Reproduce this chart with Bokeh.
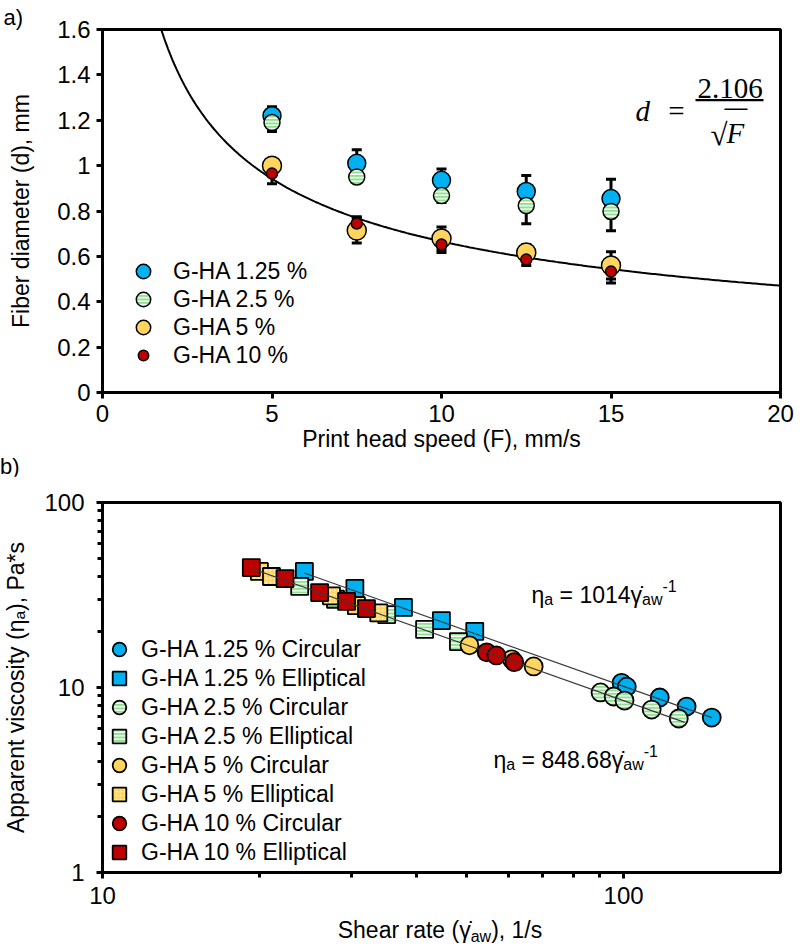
import numpy as np
from bokeh.plotting import figure
from bokeh.models import (ColumnDataSource, Range1d, FixedTicker, Whisker, TeeHead,
                          Legend, LegendItem, Label, BoxAnnotation, Title, Div)
from bokeh.layouts import column
from bokeh.embed import file_html
from bokeh.resources import INLINE

FONT = "Liberation Sans"
SERIF = "Liberation Serif"
BLUE, GREEN, YELLOW, RED = "#00B0F0", "#8FE08F", "#FFD560", "#C00000"
NB = "\u00a0"

# ---------------- panel a) data ----------------
speed = [5, 7.5, 10, 12.5, 15]
d_125 = [1.22, 1.01, 0.935, 0.886, 0.855]
d_125_err = [0.04, 0.06, 0.05, 0.07, 0.085]
d_25 = [1.19, 0.95, 0.868, 0.824, 0.798]
d_25_err = [0.04, 0.02, 0.03, 0.08, 0.085]
d_5 = [1.0, 0.714, 0.679, 0.617, 0.56]
d_5_err = [0.03, 0.055, 0.05, 0.035, 0.06]
d_10 = [0.965, 0.745, 0.652, 0.586, 0.533]
d_10_err = [0.045, 0.03, 0.035, 0.026, 0.05]
fit_coef_a = 2.106
fit_speed_range = [1.5, 20]
x_ticks_a = [0, 5, 10, 15, 20]
x_tick_labels_a = ["0", "5", "10", "15", "20"]
y_ticks_a = [0, 0.2, 0.4, 0.6, 0.8, 1, 1.2, 1.4, 1.6]
y_tick_labels_a = ["0", "0.2", "0.4", "0.6", "0.8", "1", "1.2", "1.4", "1.6"]
labels_a = ["G-HA 1.25 %", "G-HA 2.5 %", "G-HA 5 %", "G-HA 10 %"]

# ---------------- panel b) data ----------------
g_125_c = [99.1, 101.4, 117.3, 132.1, 147.6]
v_125_c = [10.6, 10.1, 8.83, 7.89, 6.88]
g_125_e = [24.4, 30.5, 37.8, 44.7, 51.8]
v_125_e = [42.4, 34.3, 27.1, 23.0, 20.1]
g_25_c = [90.3, 95.7, 100.4, 113.2, 127.6]
v_25_c = [9.4, 8.94, 8.5, 7.6, 6.8]
g_25_e = [23.9, 28.0, 35.1, 41.5, 48.2]
v_25_e = [35.2, 30.0, 24.8, 20.6, 17.7]
g_5_c = [50.6, 61.0, 67.2]
v_5_c = [16.9, 14.2, 13.0]
g_5_e = [20.0, 21.1, 27.5, 30.7, 33.9]
v_5_e = [42.4, 39.8, 31.3, 27.7, 25.3]
g_10_c = [54.6, 57.0, 61.7]
v_10_c = [15.5, 14.9, 13.7]
g_10_e = [19.3, 22.4, 26.1, 29.4, 32.1]
v_10_e = [44.5, 38.8, 32.6, 29.2, 26.7]
fit_coef_upper = 1014
fit_coef_lower = 848.68
fit_range_upper = [24.4, 147.6]
fit_range_lower = [19.3, 131.0]
x_ticks_b = [10, 100]
x_tick_labels_b = ["10", "100"]
x_minor_b = [20, 30, 40, 50, 60, 70, 80, 90]
y_ticks_b = [1, 10, 100]
y_tick_labels_b = ["1", "10", "100"]
y_minor_b = [2, 3, 4, 5, 6, 7, 8, 9, 20, 30, 40, 50, 60, 70, 80, 90]
labels_b = ["G-HA 1.25 % Circular", "G-HA 1.25 % Elliptical",
            "G-HA 2.5 % Circular", "G-HA 2.5 % Elliptical",
            "G-HA 5 % Circular", "G-HA 5 % Elliptical",
            "G-HA 10 % Circular", "G-HA 10 % Elliptical"]

# Arial-like advance widths (per 1000 em) for placing composed texts
AW = {' ': 278, NB: 278, '(': 333, ')': 333, ',': 278, '.': 278, '/': 278, '*': 389,
      '-': 333, '=': 584, 'a': 556, 'w': 722, 'η': 556, 'γ': 500}


def tw(s, size):
    return sum(AW.get(ch, 556) for ch in s if ch != '\u0307') * size / 1000.0


def add_pieces(p, pieces, x0, y0, fl, fb):
    pos = 0.0
    for text, size, shift in pieces:
        p.add_layout(Label(x=x0 + pos - fl, y=fb - (y0 + shift), x_units="screen",
                           y_units="screen", text=text, text_font=FONT,
                           text_font_size=f"{size}px", text_align="left",
                           text_baseline="alphabetic", text_color="black"))
        pos += tw(text, size)


def style_axis(ax, tick_size="24px", standoff=6):
    ax.axis_line_width = 3
    ax.axis_line_color = "black"
    ax.major_tick_line_width = 3
    ax.major_tick_line_color = "black"
    ax.major_tick_out = 6
    ax.major_tick_in = 0
    ax.minor_tick_line_color = None
    ax.major_label_text_font = FONT
    ax.major_label_text_font_size = tick_size
    ax.major_label_text_color = "black"
    ax.major_label_standoff = standoff
    ax.axis_label_text_font = FONT
    ax.axis_label_text_font_size = "23px"
    ax.axis_label_text_font_style = "normal"
    ax.axis_label_text_color = "black"


def one_item_legend(item, left, center_y, fl, fb, glyph_w, glyph_h, standoff):
    # a single-row legend placed so that its row is centred on page y = center_y
    h = max(glyph_h, 27)
    return Legend(items=[item], location=(left - fl, fb - (center_y + h / 2)),
                  padding=0, margin=0, spacing=0, glyph_width=glyph_w,
                  glyph_height=glyph_h, label_standoff=standoff,
                  label_text_font=FONT, label_text_font_size="23px",
                  label_text_color="black", label_height=20,
                  border_line_color=None, background_fill_alpha=0)


# ====================== panel a ======================
FL1, FB1 = 99, 392  # frame left / bottom in page px
p1 = figure(width=800, height=456, x_range=Range1d(0, 20), y_range=Range1d(0, 1.6),
            output_backend="svg", toolbar_location=None,
            min_border_left=99, min_border_right=12, min_border_top=29, min_border_bottom=64)
p1.grid.visible = False
p1.outline_line_color = "black"
p1.outline_line_width = 3
p1.background_fill_color = "white"
p1.border_fill_color = "white"
p1.title = Title(text="a)", align="left", offset=-99, standoff=0, text_font=FONT,
                 text_font_size="22px", text_font_style="normal", text_color="black")
style_axis(p1.xaxis[0])
style_axis(p1.yaxis[0])
p1.xaxis.ticker = FixedTicker(ticks=x_ticks_a)
p1.xaxis.major_label_overrides = dict(zip(x_ticks_a, x_tick_labels_a))
p1.yaxis.ticker = FixedTicker(ticks=y_ticks_a)
p1.yaxis.major_label_overrides = dict(zip(y_ticks_a, y_tick_labels_a))
p1.xaxis.axis_label = "Print head speed (F), mm/s"
p1.yaxis.axis_label = "Fiber diameter (d), mm"
p1.xaxis.axis_label_standoff = 1
p1.yaxis.axis_label_standoff = 20

# fitted curve d = 2.106 / sqrt(F)
F_fit = np.linspace(fit_speed_range[0], fit_speed_range[1], 300)
p1.line(F_fit, fit_coef_a / np.sqrt(F_fit), line_color="black", line_width=2)

series_a = [
    (d_125, d_125_err, dict(fill_color=BLUE), 18),
    (d_25, d_25_err, dict(fill_color=GREEN, hatch_pattern="horizontal_line",
                          hatch_color="white", hatch_scale=3.5, hatch_weight=1.5), 16),
    (d_5, d_5_err, dict(fill_color=YELLOW), 19),
    (d_10, d_10_err, dict(fill_color=RED), 11),
]
for vals, errs, fill, sz in series_a:
    v = np.array(vals)
    e = np.array(errs)
    src = ColumnDataSource(dict(x=speed, y=vals, upper=v + e, lower=v - e))
    p1.add_layout(Whisker(source=src, base="x", upper="upper", lower="lower",
                          line_color="black", line_width=3,
                          upper_head=TeeHead(size=10, line_width=3, line_color="black"),
                          lower_head=TeeHead(size=10, line_width=3, line_color="black")))
for k, ((vals, errs, fill, sz), lab) in enumerate(zip(series_a, labels_a)):
    r = p1.scatter(speed, vals, marker="circle", size=sz, line_color="black",
                   line_width=1.5, **fill)
    gh = 26 if k == 3 else 36
    p1.add_layout(one_item_legend(LegendItem(label=lab, renderers=[r]), 122,
                                  271 + 28 * k, FL1, FB1, 36, gh, 12))

# equation d = 2.106 / sqrt(F)
eq_style = dict(x_units="screen", y_units="screen", text_font=SERIF,
                text_font_size="29px", text_baseline="alphabetic", text_color="black")
p1.add_layout(Label(x=533, y=282, text="d", text_font_style="italic", **eq_style))
p1.add_layout(Label(x=574, y=282, text="=", text_align="center", **eq_style))
p1.add_layout(Label(x=627.5, y=304, text=str(fit_coef_a), text_align="center", **eq_style))
box_units = dict(left_units="screen", right_units="screen", top_units="screen",
                 bottom_units="screen", fill_color="black", fill_alpha=1, line_color=None)
p1.add_layout(BoxAnnotation(left=593, right=661, bottom=291.3, top=293.5, **box_units))
p1.add_layout(Label(x=625, y=258, text="√", text_align="right",
                    **{**eq_style, "text_font_size": "31px"}))
p1.add_layout(Label(x=624, y=260, text="F", text_font_style="italic", text_align="left",
                    **eq_style))
p1.add_layout(BoxAnnotation(left=622, right=645, bottom=282.5, top=284, **box_units))

# panel label b) between the two plots
b_label = Div(text=("<div style=\"font-family:'Liberation Sans';font-size:22px;"
                    "line-height:22px;margin:0;padding:0;color:#000;white-space:nowrap\">"
                    "b)</div>"), width=800, height=20, margin=0)

# ====================== panel b ======================
FL2, FB2 = 101, 872
p2 = figure(width=800, height=439, x_axis_type="log", y_axis_type="log",
            x_range=Range1d(10, 200), y_range=Range1d(1, 100),
            output_backend="svg", toolbar_location=None,
            min_border_left=101, min_border_right=20, min_border_top=26, min_border_bottom=43)
p2.grid.visible = False
p2.outline_line_color = "black"
p2.outline_line_width = 3
style_axis(p2.xaxis[0], standoff=8)
style_axis(p2.yaxis[0], standoff=12)
for ax, t, lab, mn in ((p2.xaxis, x_ticks_b, x_tick_labels_b, x_minor_b),
                       (p2.yaxis, y_ticks_b, y_tick_labels_b, y_minor_b)):
    ax.ticker = FixedTicker(ticks=t, minor_ticks=mn)
    ax.major_label_overrides = dict(zip(t, lab))
    ax.minor_tick_line_color = "black"
    ax.minor_tick_line_width = 3
    ax.minor_tick_out = 5
    ax.minor_tick_in = 0
p2.yaxis.axis_label = "Apparent viscosity (η\u2090), Pa*s"
p2.yaxis.axis_label_standoff = 12

GREEN_HATCH = dict(hatch_pattern="horizontal_line", hatch_color="white",
                   hatch_scale=3.5, hatch_weight=1.5)
DOT_HATCH = dict(hatch_pattern="dot", hatch_color="#FFF4CC", hatch_scale=4,
                 hatch_weight=1.2)
series_b = [
    (g_125_c, v_125_c, "circle", dict(fill_color=BLUE)),
    (g_125_e, v_125_e, "square", dict(fill_color=BLUE)),
    (g_25_c, v_25_c, "circle", dict(fill_color=GREEN, **GREEN_HATCH)),
    (g_25_e, v_25_e, "square", dict(fill_color=GREEN, **GREEN_HATCH)),
    (g_5_c, v_5_c, "circle", dict(fill_color=YELLOW)),
    (g_5_e, v_5_e, "square", dict(fill_color=YELLOW, **DOT_HATCH)),
    (g_10_c, v_10_c, "circle", dict(fill_color=RED)),
    (g_10_e, v_10_e, "square", dict(fill_color=RED)),
]
for k, ((gx, vy, mk, fill), lab) in enumerate(zip(series_b, labels_b)):
    r = p2.scatter(gx, vy, marker=mk, size=(18 if mk == "circle" else 17),
                   line_color="black", line_width=1.8, **fill)
    p2.add_layout(one_item_legend(LegendItem(label=lab, renderers=[r]), 101,
                                  649 + 29 * k, FL2, FB2, 34, 34, 5))

for coef, rng in ((fit_coef_upper, fit_range_upper), (fit_coef_lower, fit_range_lower)):
    gx = np.array(rng)
    p2.line(gx, coef / gx, line_color="#3a3a3a", line_width=1.2)

eq_upper = [("η", 23, 0), ("a", 16, 5), (NB + "=" + NB + str(fit_coef_upper), 23, 0),
            ("γ\u0307", 23, 0), ("aw", 16, 5), ("-1", 16, -9)]
eq_lower = [("η", 23, 0), ("a", 16, 5), (NB + "=" + NB + str(fit_coef_lower), 23, 0),
            ("γ\u0307", 23, 0), ("aw", 16, 5), ("-1", 16, -9)]
add_pieces(p2, eq_upper, 530, 594, FL2, FB2)
add_pieces(p2, eq_lower, 492, 759, FL2, FB2)

x_title = Div(
    text=("<div style=\"margin:0 0 0 80px;width:720px;text-align:center;"
          "font-family:'Liberation Sans';font-size:23px;line-height:24px;"
          "padding:3px 0 0 0;color:#000;white-space:nowrap\">Shear rate (γ\u0307"
          "<sub style=\"font-size:16px;vertical-align:-4px;line-height:0\">aw</sub>),"
          " 1/s</div>"),
    width=800, height=32, margin=0)

layout = column(p1, b_label, p2, x_title, spacing=0)
open("out.html", "w").write(file_html(layout, INLINE))
